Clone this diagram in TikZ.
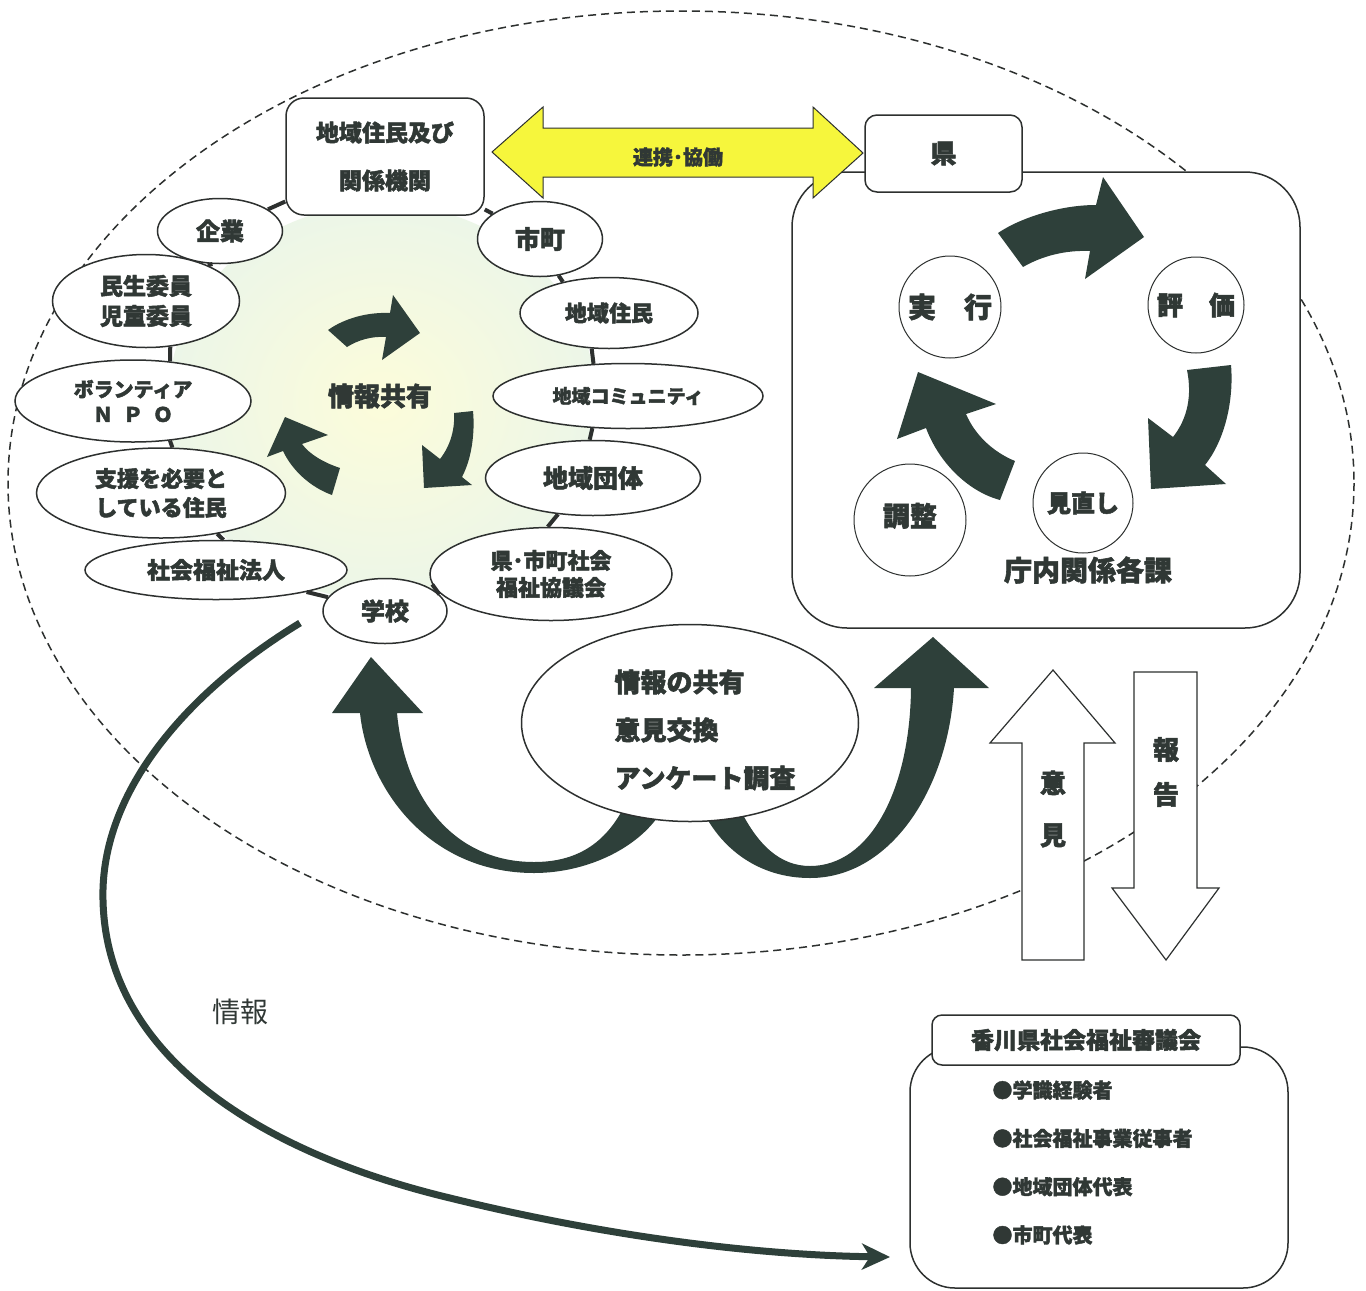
\documentclass[tikz,border=0pt]{standalone}
\usepackage{fontspec}
\newfontfamily\jp{Noto Sans CJK JP}[BoldFeatures={FakeBold=2}]
\usetikzlibrary{shapes.geometric,arrows.meta}
\definecolor{darkc}{RGB}{46,64,58}
\definecolor{textc}{RGB}{48,56,53}
\definecolor{linec}{RGB}{45,48,47}
\definecolor{yel}{RGB}{246,246,60}
\begin{document}
\begin{tikzpicture}[x=1pt,y=-1pt,
  every node/.style={text=textc},
  jf/.style 2 args={font=\jp\bfseries\fontsize{#1}{#2}\selectfont},
  ell/.style={ellipse, draw=linec, line width=1.5pt, fill=white, inner sep=0pt, align=center},
  rbox/.style={rectangle, draw=linec, line width=1.5pt, fill=white, inner sep=0pt, align=center},
  ring/.style={draw=linec, line width=4pt},
  cyc/.style={circle, draw=linec, line width=1pt, fill=white, inner sep=0pt},
  blk/.style={fill=darkc},
  hollow/.style={draw=linec, line width=1.2pt, fill=white},
]
\useasboundingbox (0,0) rectangle (1366,1291);
\fill[white] (0,0) rectangle (1366,1291);

% big dashed ellipse
\draw[linec, line width=1.5pt, dash pattern=on 8pt off 5pt] (681,483) ellipse [x radius=673, y radius=472];

% cream region
\shade[inner color={rgb,255:red,252;green,252;blue,218}, outer color={rgb,255:red,236;green,246;blue,232}] (382,402) ellipse [x radius=214, y radius=198];

% left cluster
\node[rbox, rounded corners=18pt, minimum width=198pt, minimum height=117pt, jf={23}{48}] (box) at (385,156.5) {地域住民及び\\関係機関};
\node[ell, minimum width=125pt, minimum height=65pt, jf={24}{30}] (kigyo) at (220,231) {企業};
\node[ell, minimum width=187pt, minimum height=93pt, jf={23}{30}] (minsei) at (146,301) {民生委員\\児童委員};
\node[ell, minimum width=236pt, minimum height=82pt, jf={20}{25}] (vol) at (133,401) {ボランティア\\Ｎ\hspace{0.5em}Ｐ\hspace{0.5em}Ｏ};
\node[ell, minimum width=249pt, minimum height=90pt, jf={22}{29}] (shien) at (161,493) {支援を必要と\\している住民};
\node[ell, minimum width=262pt, minimum height=59pt, jf={23}{28}] (hojin) at (216,570) {社会福祉法人};
\node[ell, minimum width=124pt, minimum height=65pt, jf={24}{28}] (gakko) at (385,611) {学校};
\node[ell, minimum width=125pt, minimum height=75pt, jf={25}{30}] (shicho) at (540,239) {市町};
\node[ell, minimum width=178pt, minimum height=71pt, jf={22}{28}] (jumin) at (609,313) {地域住民};
\node[ell, minimum width=270pt, minimum height=65pt, jf={19}{24}] (comm) at (628,396) {地域コミュニティ};
\node[ell, minimum width=215pt, minimum height=75pt, jf={25}{30}] (dantai) at (593,478) {地域団体};
\node[ell, minimum width=242pt, minimum height=93pt, jf={22}{27}] (kyogi) at (551,574) {県･市町社会\\福祉協議会};

% ring connectors
\draw[ring] (box) -- (kigyo);
\draw[ring] (kigyo.257) -- (minsei.30);
\draw[ring] (minsei.298) -- (vol.47);
\draw[ring] (vol.313) -- (shien.76);
\draw[ring] (shien.324) -- (hojin.76);
\draw[ring] (hojin) -- (gakko);
\draw[ring] (gakko.17) -- (kyogi.185);
\draw[ring] (kyogi.94) -- (dantai.226);
\draw[ring] (dantai.95) -- (comm.222);
\draw[ring] (comm.137) -- (jumin.244);
\draw[ring] (jumin.146) -- (shicho.297);
\draw[ring] (shicho) -- (box);

% info sharing cycle
\node[jf={26}{30}] (kyoyu) at (380,396) {情報共有};
\fill[blk] (328,330) .. controls (345,318) and (368,312) .. (390,313) -- (393,295) -- (420,333) -- (382,360) -- (386,337) .. controls (372,336) and (358,340) .. (347,347) -- cycle;
\fill[blk] (473,411) .. controls (475,432) and (472,458) .. (462,477) -- (472,485) -- (424,488) -- (422,445) -- (440,459) .. controls (451,445) and (455,428) .. (454,413) -- cycle;
\fill[blk] (340,468) .. controls (325,463) and (310,455) .. (302,444) -- (328,435) -- (285,417) -- (267,457) -- (283,451) .. controls (292,470) and (310,487) .. (332,495) -- cycle;

% right big box
\node[rbox, rounded corners=55pt, minimum width=508pt, minimum height=456pt] (chonai) at (1046,400) {};

% yellow double arrow
\draw[linec, line width=1pt, fill=yel] (492,152) -- (543,107) -- (543,128) -- (813,128) -- (813,107) -- (863,153) -- (813,198) -- (813,177) -- (543,177) -- (543,198) -- cycle;
\node[jf={20}{24}] (renkei) at (678,157) {連携･協働};

\node[rbox, rounded corners=12pt, minimum width=157pt, minimum height=77pt, jf={26}{30}] (ken) at (943.5,153.5) {県};

% cycle
\node[cyc, minimum size=102pt, jf={28}{30}] (jikko) at (950,307) {実\hspace{1em}行};
\node[cyc, minimum size=96pt, jf={26}{30}] (hyoka) at (1196,305) {評\hspace{1em}価};
\node[cyc, minimum size=100pt, jf={24}{30}] (minaoshi) at (1083,503) {見直し};
\node[cyc, minimum size=112pt, jf={27}{30}] (chosei) at (910,520) {\raisebox{11pt}{調整}};
\node[jf={28}{30}] (chonaiT) at (1088,570) {庁内関係各課};

\fill[blk] (998,233) .. controls (1020,218) and (1060,205) .. (1096,205) -- (1103,177) -- (1144,237) -- (1085,279) -- (1090,251) .. controls (1065,250) and (1042,256) .. (1023,267) -- cycle;
\fill[blk] (1231,365) .. controls (1234,400) and (1225,440) .. (1205,465) -- (1226,484) -- (1151,489) -- (1148,418) -- (1173,437) .. controls (1188,418) and (1192,395) .. (1187,370) -- cycle;
\fill[blk] (1000,500) .. controls (970,492) and (940,465) .. (926,428) -- (897,439) -- (918,372) -- (996,404) -- (966,414) .. controls (975,435) and (993,452) .. (1015,461) -- cycle;

% big U arrows
\fill[blk] (360,713) .. controls (368,790) and (430,873) .. (534,873) .. controls (590,873) and (645,845) .. (665,805) -- (625,805) .. controls (605,845) and (575,862) .. (534,862) .. controls (455,862) and (405,800) .. (397,713) -- (423,713) -- (371,657) -- (332,713) -- cycle;
\fill[blk] (954,688) .. controls (948,790) and (890,878) .. (810,878) .. controls (760,878) and (720,850) .. (700,805) -- (738,805) .. controls (757,845) and (780,866) .. (810,866) .. controls (870,866) and (910,790) .. (911,688) -- (874,688) -- (933,637) -- (989,688) -- cycle;

\node[ell, minimum width=337pt, minimum height=197pt] (iken) at (690,723) {};
\node[jf={26}{48}, align=left, anchor=west] (ikenT) at (611,730) {情報の共有\\意見交換\\アンケート調査};

% opinion / report arrows
\draw[hollow] (1053,670) -- (1115,743) -- (1084,743) -- (1084,960) -- (1022,960) -- (1022,743) -- (990,743) -- cycle;
\draw[hollow] (1134,672) -- (1197,672) -- (1197,888) -- (1219,888) -- (1166,960) -- (1112,888) -- (1134,888) -- cycle;
\node[jf={26}{52}, align=center] (ikenL) at (1053,809) {意\\見};
\node[jf={26}{45}, align=center] (hokoku) at (1166,772) {報\\告};

% council box
\node[rbox, rounded corners=45pt, minimum width=378pt, minimum height=241pt] (shingi) at (1099,1167.5) {};
\node[rbox, rounded corners=10pt, minimum width=308pt, minimum height=50pt, jf={23}{28}] (shingiT) at (1086,1040) {\raisebox{-5pt}{香川県社会福祉審議会}};
\node[jf={20}{48.3}, align=left, anchor=west] (members) at (989,1162.5) {●学識経験者\\●社会福祉事業従事者\\●地域団体代表\\●市町代表};

% information connector
\coordinate (infoS) at (300,623);
\coordinate (infoE) at (890,1257);
\draw[darkc, line width=7pt, -{Stealth[length=28pt, width=26pt, inset=8pt]}] (infoS) .. controls (190,690) and (100,790) .. (103,900) .. controls (106,1050) and (250,1150) .. (450,1198) .. controls (600,1235) and (750,1255) .. (infoE);
\node[font=\jp\fontsize{28}{30}\selectfont] (infoL) at (240,1012) {情報};
\end{tikzpicture}
\end{document}
